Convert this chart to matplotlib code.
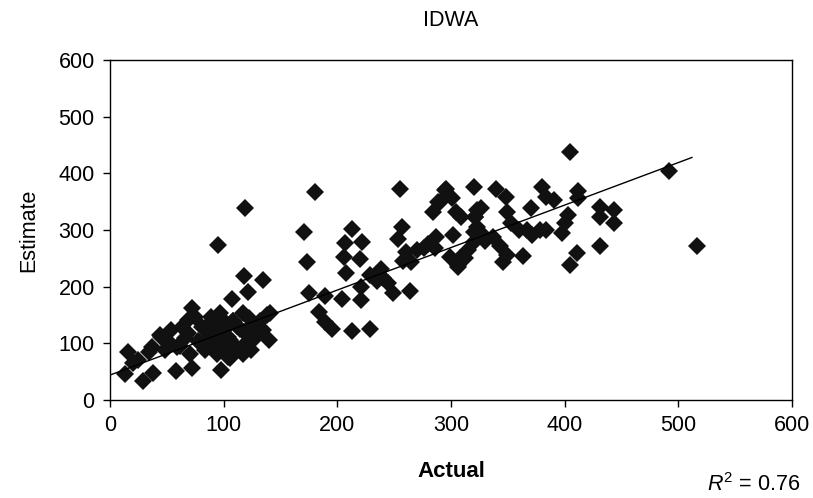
import matplotlib
matplotlib.use("Agg")
import matplotlib.pyplot as plt

plt.rcParams['font.family'] = ['Liberation Sans', 'DejaVu Sans']
plt.rcParams['mathtext.fontset'] = 'custom'
plt.rcParams['mathtext.it'] = 'Liberation Sans:italic'
plt.rcParams['mathtext.rm'] = 'Liberation Sans'

actual = [
    16, 13, 29, 38, 58, 72, 98, 34, 44, 54, 63, 69, 59, 70, 53, 37, 48, 25,
    81, 89, 95, 86, 84, 92, 104, 104, 101, 75, 72, 69, 106, 94, 118, 135, 121,
    107, 141, 140, 88, 108, 117, 126, 135, 97, 79, 94, 117, 106, 108, 112, 118,
    122, 128, 132, 138, 100, 96, 110, 120, 124, 102, 86, 90, 95, 114, 130, 66,
    62, 77, 45, 20, 119, 95,
    180, 171, 173, 213, 207, 222, 206, 220, 208, 175, 189, 204, 184, 189, 195,
    213, 229, 221, 221, 238, 229, 245, 249, 264, 255, 257, 253, 260, 265, 276,
    287, 284, 289, 295, 301, 320, 304, 309, 302, 286, 299, 306, 312, 320, 323,
    296, 321, 340, 348, 326, 321, 323, 326, 320, 337, 349, 353, 370, 367, 371,
    378, 384, 380, 384, 391, 412, 412, 403, 400, 398, 431, 443, 431, 443, 431,
    411, 405, 343, 349, 346, 363, 308, 306, 290, 405, 492, 516, 270, 280,
    240, 235, 258, 315, 330, 360,
]
estimate = [
    85, 46, 33, 47, 52, 56, 53, 85, 115, 124, 129, 118, 94, 82, 100, 94, 88, 71,
    129, 147, 135, 106, 88, 94, 112, 76, 126, 147, 162, 141, 106, 82, 218, 212, 191,
    179, 153, 106, 129, 140, 153, 135, 124, 153, 100, 108, 82, 74, 140, 130, 120,
    145, 110, 140, 150, 140, 120, 95, 100, 88, 88, 118, 140, 105, 125, 120, 110,
    95, 105, 112, 65, 338, 273,
    367, 297, 243, 301, 277, 278, 253, 249, 225, 188, 183, 179, 155, 138, 125,
    122, 126, 200, 176, 232, 221, 206, 188, 192, 372, 306, 284, 262, 244, 268,
    288, 332, 350, 371, 356, 376, 332, 323, 291, 268, 253, 238, 250, 297, 335,
    373, 323, 373, 359, 338, 323, 306, 294, 279, 287, 332, 312, 339, 300, 291,
    300, 300, 376, 359, 353, 368, 356, 326, 312, 294, 341, 335, 323, 313, 272,
    259, 238, 271, 256, 244, 254, 250, 235, 350, 437, 404, 272, 265, 275,
    215, 210, 245, 265, 280, 300,
]

# trendline as drawn in the original
trend_intercept = 44
trend_slope = 0.75
trend_x = [0, 512]
r_squared = 0.76

fig = plt.figure(figsize=(8.13, 4.98), dpi=100)
ax = fig.add_axes([110 / 813, 1 - 400 / 498, 682 / 813, 340 / 498])

ax.plot(actual, estimate, linestyle='none', marker='D', markersize=8.7,
        color='#111111', markeredgewidth=0, zorder=2)
ax.plot(trend_x, [trend_intercept + trend_slope * v for v in trend_x],
        color='black', linewidth=1.0, zorder=3)

ax.set_xlim(0, 600)
ax.set_ylim(0, 600)
ax.set_xticks(range(0, 601, 100))
ax.set_yticks(range(0, 601, 100))
ax.tick_params(axis='both', direction='out', length=5, width=1,
               labelsize=15.5, pad=6)
for s in ax.spines.values():
    s.set_linewidth(1.0)

ax.set_xlabel('Actual', fontsize=16, fontweight='bold', labelpad=18)
ax.set_ylabel('Estimate', fontsize=15.5, labelpad=14)
fig.text(451 / 813, 1 - 20 / 498, 'IDWA', ha='center', va='center', fontsize=15.5)
fig.text(800 / 813, 1 - 485 / 498, r'$R^2$ = %.2f' % r_squared, ha='right',
         va='center', fontsize=15.5)

fig.savefig('out.png', dpi=100)
